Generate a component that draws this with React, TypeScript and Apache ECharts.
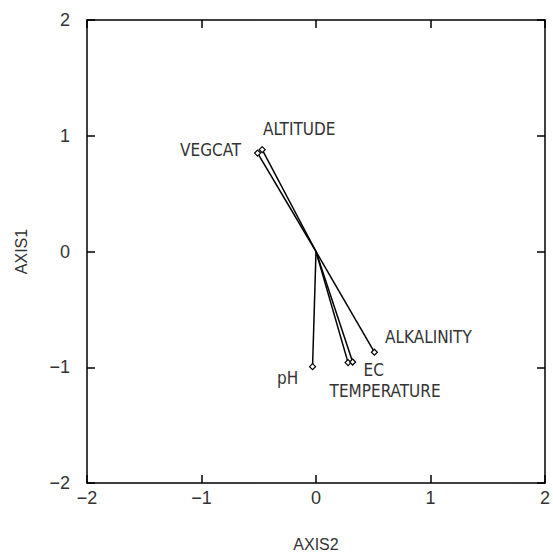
import React, { useEffect, useRef } from "react";
import * as echarts from "echarts";

const variables = ["VEGCAT", "ALTITUDE", "pH", "TEMPERATURE", "EC", "ALKALINITY"];
const axis2Values = [-0.51, -0.47, -0.03, 0.28, 0.32, 0.51];
const axis1Values = [0.85, 0.88, -0.995, -0.96, -0.955, -0.87];
const labelOffsets: [number, number][] = [
  [-47, -3],
  [37, -21],
  [-25, 11],
  [37, 28],
  [21, 8],
  [54, -15],
];

export default function App() {
  const ref = useRef<HTMLDivElement>(null);
  useEffect(() => {
    if (!ref.current) return;
    const chart = echarts.init(ref.current, undefined, { renderer: "svg" });
    const font = "'Liberation Sans', Arial, sans-serif";
    const narrow = "'Liberation Sans Narrow', 'Arial Narrow', 'DejaVu Sans Condensed', sans-serif";
    const fmt = (v: number) => (v < 0 ? "\u2212" + Math.abs(v) : String(v));
    const series = variables.map((name, i) => ({
      type: "line",
      name,
      data: [
        { value: [0, 0], symbol: "none" },
        {
          value: [axis2Values[i], axis1Values[i]],
          symbol: "diamond",
          symbolSize: 6,
          label: {
            show: true,
            formatter: name,
            position: "inside",
            offset: labelOffsets[i],
            color: "#333",
            fontSize: 17,
            fontFamily: narrow,
          },
        },
      ],
      lineStyle: { color: "#000", width: 1.5 },
      itemStyle: { color: "#fff", borderColor: "#000", borderWidth: 1.2 },
      showSymbol: true,
      z: 3,
    }));
    const baseX = {
      type: "value",
      min: -2,
      max: 2,
      interval: 1,
      splitLine: { show: false },
      axisLine: { show: true, onZero: false, lineStyle: { color: "#000", width: 1.5 } },
      axisTick: { show: true, inside: true, length: 8, lineStyle: { color: "#000", width: 1.5 } },
    };
    chart.setOption({
      animation: false,
      backgroundColor: "#fff",
      grid: { left: 87, right: 6, top: 20, bottom: 75 },
      xAxis: [
        {
          ...baseX,
          position: "bottom",
          name: "AXIS2",
          nameLocation: "middle",
          nameGap: 53,
          nameTextStyle: { color: "#333", fontSize: 16, fontFamily: font },
          axisLabel: { formatter: fmt, color: "#333", fontSize: 18, fontFamily: font, margin: 6 },
        },
        { ...baseX, position: "top", axisLabel: { show: false } },
      ],
      yAxis: [
        {
          ...baseX,
          position: "left",
          name: "AXIS1",
          nameLocation: "middle",
          nameGap: 58,
          nameTextStyle: { color: "#333", fontSize: 16, fontFamily: font },
          axisLabel: { formatter: fmt, color: "#333", fontSize: 18, fontFamily: font, margin: 17 },
        },
        { ...baseX, position: "right", axisLabel: { show: false } },
      ],
      series,
    });
    return () => chart.dispose();
  }, []);
  return <div ref={ref} style={{ width: 553, height: 558, position: "absolute", left: 0, top: 0 }} />;
}
